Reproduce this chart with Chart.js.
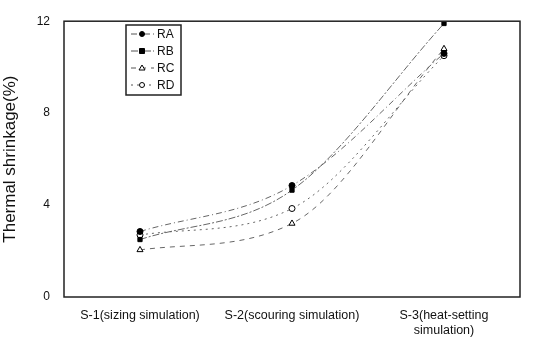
<!DOCTYPE html>
<html>
<head>
<meta charset="utf-8">
<script src="https://cdn.jsdelivr.net/npm/chart.js@4/dist/chart.umd.min.js"></script>
<style>
  body { margin: 0; background: #fff; }
  #wrap { width: 537px; height: 341px; }
</style>
</head>
<body>
<div id="wrap"><canvas id="myChart"></canvas></div>
<script>
// categories (processing stages)
var stages = ['S-1(sizing simulation)', 'S-2(scouring simulation)', ['S-3(heat-setting', 'simulation)']];
// thermal shrinkage (%) per sample
var ra = [2.85, 4.85, 10.6];
var rb = [2.5, 4.65, 11.9];
var rc = [2.05, 3.2, 10.8];
var rd = [2.7, 3.85, 10.5];
var yTicks = [0, 4, 8, 12];

// frame round the plot + legend box inside it
var framePlugin = {
  id: 'frame',
  afterDraw: function (chart) {
    var c = chart.ctx, a = chart.chartArea;
    c.save();
    c.strokeStyle = '#222';
    c.lineWidth = 1.5;
    c.strokeRect(a.left, a.top, a.right - a.left, a.bottom - a.top);

    // legend
    var x0 = 126, y0 = 25, w = 55, h = 70;
    c.lineWidth = 1.5;
    c.strokeRect(x0, y0, w, h);
    c.font = '12px "Liberation Sans", Arial, sans-serif';
    c.textBaseline = 'middle';
    chart.data.datasets.forEach(function (ds, i) {
      var y = y0 + 9 + i * 17;
      c.strokeStyle = '#555';
      c.lineWidth = 1;
      c.setLineDash(ds.borderDash);
      c.beginPath(); c.moveTo(x0 + 5, y); c.lineTo(x0 + 28, y); c.stroke();
      c.setLineDash([]);
      c.fillStyle = ds.pointBackgroundColor;
      c.strokeStyle = '#000';
      var px = x0 + 16;
      c.beginPath();
      if (ds.pointStyle === 'rect') { c.rect(px - 2.5, y - 2.5, 5, 5); }
      else if (ds.pointStyle === 'triangle') { c.moveTo(px, y - 3); c.lineTo(px + 3, y + 2); c.lineTo(px - 3, y + 2); c.closePath(); }
      else { c.arc(px, y, 2.5, 0, Math.PI * 2); }
      c.fill(); c.stroke();
      c.fillStyle = '#111';
      c.fillText(ds.label, x0 + 31, y + 1);
    });
    c.restore();
  }
};

var chartdata = {
  labels: stages,
  datasets: [{
    label: 'RA',
    data: ra,
    borderDash: [6, 3, 1, 3],
    pointStyle: 'circle',
    pointBackgroundColor: '#000',
    pointRadius: 3
  }, {
    label: 'RB',
    data: rb,
    borderDash: [7, 2, 2, 2],
    pointStyle: 'rect',
    pointBackgroundColor: '#000',
    pointRadius: 3
  }, {
    label: 'RC',
    data: rc,
    borderDash: [5, 5],
    pointStyle: 'triangle',
    pointBackgroundColor: '#fff',
    pointRadius: 3.5
  }, {
    label: 'RD',
    data: rd,
    borderDash: [2, 4],
    pointStyle: 'circle',
    pointBackgroundColor: '#fff',
    pointRadius: 3
  }]
};
chartdata.datasets.forEach(function (ds) {
  ds.borderColor = '#666';
  ds.borderWidth = 1;
  ds.pointBorderColor = '#000';
  ds.pointBorderWidth = 1;
  ds.tension = 0.4;
  ds.cubicInterpolationMode = 'monotone';
});

var ctx = document.getElementById('myChart');
var lineChart = new Chart(ctx, {
  type: 'line',
  data: chartdata,
  plugins: [framePlugin],
  options: {
    responsive: true,
    maintainAspectRatio: false,
    animation: false,
    layout: { padding: { left: 0, right: 17, top: 11, bottom: 0 } },
    plugins: { legend: { display: false }, tooltip: { enabled: false } },
    scales: {
      x: {
        offset: true,
        grid: { display: false, drawTicks: false },
        border: { display: false },
        afterFit: function (s) { s.height = 44; },
        ticks: {
          color: '#111',
          padding: 11,
          maxRotation: 0,
          autoSkip: false,
          font: { family: '"Liberation Sans", Arial, sans-serif', size: 12.5 }
        }
      },
      y: {
        min: 0,
        max: 12,
        afterFit: function (s) { s.width = 64; },
        afterBuildTicks: function (s) { s.ticks = yTicks.map(function (v) { return { value: v }; }); },
        grid: { display: false, drawTicks: false },
        border: { display: false },
        title: {
          display: true,
          text: 'Thermal shrinkage(%)',
          color: '#111',
          padding: { top: 0, bottom: 8 },
          font: { family: '"Liberation Sans", Arial, sans-serif', size: 17 }
        },
        ticks: {
          color: '#111',
          padding: 14,
          font: { family: '"Liberation Sans", Arial, sans-serif', size: 12 }
        }
      }
    }
  }
});
</script>
</body>
</html>
